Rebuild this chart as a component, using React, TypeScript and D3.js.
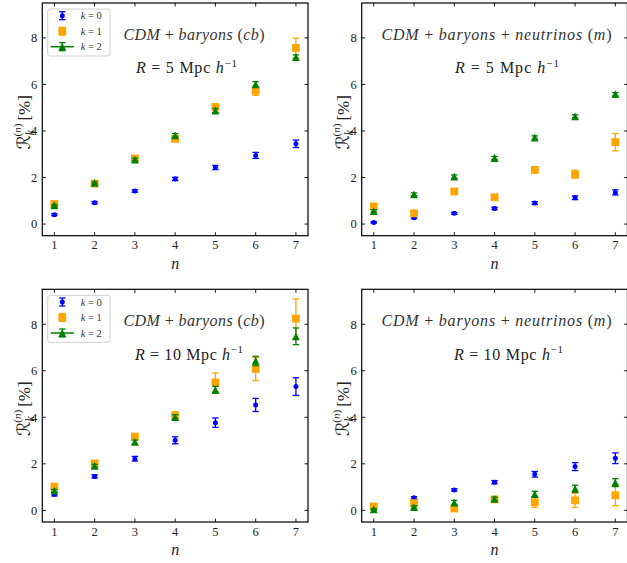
import React from "react";
import * as d3 from "d3";

// ---------- data ----------
const nValues = [1, 2, 3, 4, 5, 6, 7];
const xTicks = [1, 2, 3, 4, 5, 6, 7];
const yTicks = [0, 2, 4, 6, 8];
const seriesNames = ["0", "1", "2"];
const seriesColors = ["#0000ff", "#ffa500", "#008000"];

// top-left: CDM + baryons (cb), R = 5
const cb5K0 = [0.4, 0.92, 1.42, 1.94, 2.43, 2.95, 3.45];
const cb5K0Err = [0.04, 0.05, 0.05, 0.07, 0.09, 0.13, 0.16];
const cb5K1 = [0.86, 1.74, 2.82, 3.66, 5.03, 5.73, 7.57];
const cb5K1Err = [0.06, 0.07, 0.08, 0.1, 0.12, 0.2, 0.42];
const cb5K2 = [0.8, 1.77, 2.77, 3.81, 4.88, 6.0, 7.17];
const cb5K2Err = [0.04, 0.05, 0.06, 0.08, 0.09, 0.12, 0.1];

// top-right: CDM + baryons + neutrinos (m), R = 5
const m5K0 = [0.07, 0.27, 0.46, 0.67, 0.9, 1.13, 1.36];
const m5K0Err = [0.03, 0.04, 0.04, 0.05, 0.06, 0.08, 0.11];
const m5K1 = [0.76, 0.46, 1.4, 1.15, 2.33, 2.14, 3.52];
const m5K1Err = [0.08, 0.12, 0.1, 0.1, 0.13, 0.17, 0.37];
const m5K2 = [0.56, 1.28, 2.04, 2.84, 3.72, 4.63, 5.58];
const m5K2Err = [0.05, 0.06, 0.07, 0.07, 0.07, 0.07, 0.07];

// bottom-left: CDM + baryons (cb), R = 10
const cb10K0 = [0.69, 1.46, 2.22, 3.01, 3.77, 4.53, 5.32];
const cb10K0Err = [0.07, 0.07, 0.1, 0.15, 0.2, 0.28, 0.38];
const cb10K1 = [1.02, 2.02, 3.17, 4.06, 5.5, 6.08, 8.24];
const cb10K1Err = [0.08, 0.1, 0.12, 0.18, 0.4, 0.5, 0.85];
const cb10K2 = [0.85, 1.91, 2.94, 4.01, 5.18, 6.42, 7.48];
const cb10K2Err = [0.05, 0.07, 0.08, 0.1, 0.15, 0.2, 0.36];

// bottom-right: CDM + baryons + neutrinos (m), R = 10
const m10K0 = [0.15, 0.54, 0.88, 1.21, 1.55, 1.88, 2.24];
const m10K0Err = [0.04, 0.05, 0.05, 0.07, 0.12, 0.17, 0.23];
const m10K1 = [0.17, 0.31, 0.08, 0.47, 0.35, 0.43, 0.65];
const m10K1Err = [0.08, 0.1, 0.1, 0.08, 0.22, 0.3, 0.45];
const m10K2 = [0.04, 0.14, 0.33, 0.49, 0.7, 0.93, 1.19];
const m10K2Err = [0.03, 0.05, 0.1, 0.08, 0.12, 0.15, 0.17];

// ---------- layout ----------
const W = 627;
const H = 563;
const PW = 265.7;
const PH = 232.7;
const FONT = "'Liberation Serif', 'DejaVu Serif', serif";

type Panel = {
  left: number;
  top: number;
  series: { v: number[]; e: number[] }[];
  kind: "cb" | "m";
  radius: string;
  legend: boolean;
  titleX: number;
  titleLen: number;
  rX: number;
  rLen: number;
};

const panels: Panel[] = [
  {
    left: 42.3, top: 3, kind: "cb", radius: "5", legend: true, titleX: 123.5, titleLen: 141, rX: 136, rLen: 101,
    series: [{ v: cb5K0, e: cb5K0Err }, { v: cb5K1, e: cb5K1Err }, { v: cb5K2, e: cb5K2Err }],
  },
  {
    left: 361.7, top: 3, kind: "m", radius: "5", legend: false, titleX: 381.5, titleLen: 230, rX: 455, rLen: 104,
    series: [{ v: m5K0, e: m5K0Err }, { v: m5K1, e: m5K1Err }, { v: m5K2, e: m5K2Err }],
  },
  {
    left: 42.3, top: 289.3, kind: "cb", radius: "10", legend: true, titleX: 123.5, titleLen: 141, rX: 135, rLen: 108,
    series: [{ v: cb10K0, e: cb10K0Err }, { v: cb10K1, e: cb10K1Err }, { v: cb10K2, e: cb10K2Err }],
  },
  {
    left: 361.7, top: 289.3, kind: "m", radius: "10", legend: false, titleX: 381.5, titleLen: 230, rX: 454, rLen: 109,
    series: [{ v: m10K0, e: m10K0Err }, { v: m10K1, e: m10K1Err }, { v: m10K2, e: m10K2Err }],
  },
];

function Marker({ k, cx, cy, color }: { k: number; cx: number; cy: number; color: string }) {
  if (k === 0) return <circle cx={cx} cy={cy} r={2.5} fill={color} />;
  if (k === 1) return <rect x={cx - 3.9} y={cy - 3.9} width={7.8} height={7.8} fill={color} />;
  const s = 3.9;
  return <path d={`M${cx},${cy - s}L${cx - s},${cy + s}L${cx + s},${cy + s}Z`} fill={color} />;
}

function ErrBar({ cx, y0, y1, color }: { cx: number; y0: number; y1: number; color: string }) {
  const cw = 3.2;
  return (
    <g stroke={color} strokeWidth={1.3}>
      <line x1={cx} x2={cx} y1={y0} y2={y1} />
      <line x1={cx - cw} x2={cx + cw} y1={y0} y2={y0} />
      <line x1={cx - cw} x2={cx + cw} y1={y1} y2={y1} />
    </g>
  );
}

function PanelView({ p }: { p: Panel }) {
  const x = d3.scaleLinear().domain([0.7, 7.3]).range([p.left, p.left + PW]);
  const y = d3.scaleLinear().domain([-0.5, 9.5]).range([p.top + PH, p.top]);
  const bottom = p.top + PH;
  const right = p.left + PW;
  const tl = 3.5;
  const lx = p.left + 20; // legend handle centre
  return (
    <g>
      {/* data */}
      {p.series.map((s, k) => (
        <g key={k}>
          {s.v.map((v, i) => (
            <g key={i}>
              <ErrBar cx={x(nValues[i])} y0={y(v + s.e[i])} y1={y(v - s.e[i])} color={seriesColors[k]} />
              <Marker k={k} cx={x(nValues[i])} cy={y(v)} color={seriesColors[k]} />
            </g>
          ))}
        </g>
      ))}
      {/* ticks */}
      <g stroke="#000" strokeWidth={0.9}>
        {xTicks.map((t) => (
          <g key={"x" + t}>
            <line x1={x(t)} x2={x(t)} y1={bottom} y2={bottom - tl} />
            <line x1={x(t)} x2={x(t)} y1={p.top} y2={p.top + tl} />
          </g>
        ))}
        {yTicks.map((t) => (
          <g key={"y" + t}>
            <line x1={p.left} x2={p.left + tl} y1={y(t)} y2={y(t)} />
            <line x1={right} x2={right - tl} y1={y(t)} y2={y(t)} />
          </g>
        ))}
      </g>
      <rect x={p.left} y={p.top} width={PW} height={PH} fill="none" stroke="#000" strokeWidth={1.2} />
      {/* tick labels */}
      <g fontFamily={FONT} fontSize={12.5} fill="#222">
        {xTicks.map((t) => (
          <text key={"xl" + t} x={x(t)} y={bottom + 13.6} textAnchor="middle">
            {t}
          </text>
        ))}
        {yTicks.map((t) => (
          <text key={"yl" + t} x={p.left - 5} y={y(t) + 4.3} textAnchor="end">
            {t}
          </text>
        ))}
      </g>
      {/* axis labels */}
      <text x={p.left + PW / 2} y={bottom + 33.3} textAnchor="middle" fontFamily={FONT} fontSize={16} fontStyle="italic" fill="#222">
        n
      </text>
      <text
        transform={`translate(${p.left - 12.5},${p.top + PH / 2 + 3}) rotate(-90)`}
        textAnchor="middle"
        fontFamily={FONT}
        fontSize={17}
        fill="#222"
      >
        <tspan fontFamily="'DejaVu Sans', sans-serif" fontSize={18}>ℛ</tspan>
        <tspan fontSize={12} fontStyle="italic" dy={4}>k</tspan>
        <tspan fontSize={11} dx={-6.5} dy={-13}>(</tspan>
        <tspan fontSize={11} fontStyle="italic">n</tspan>
        <tspan fontSize={11}>)</tspan>
        <tspan dy={9} dx={3}>[%]</tspan>
      </text>
      {/* annotations */}
      <text
        x={p.titleX}
        y={p.top + 36.8}
        fontFamily={FONT}
        fontSize={16}
        fill="#333"
        textLength={p.titleLen}
        lengthAdjust="spacing"
      >
        {p.kind === "cb" ? (
          <>
            <tspan fontStyle="italic">CDM</tspan>
            <tspan> + </tspan>
            <tspan fontStyle="italic">baryons</tspan>
            <tspan> (</tspan>
            <tspan fontStyle="italic">cb</tspan>
            <tspan>)</tspan>
          </>
        ) : (
          <>
            <tspan fontStyle="italic">CDM</tspan>
            <tspan> + </tspan>
            <tspan fontStyle="italic">baryons</tspan>
            <tspan> + </tspan>
            <tspan fontStyle="italic">neutrinos</tspan>
            <tspan> (</tspan>
            <tspan fontStyle="italic">m</tspan>
            <tspan>)</tspan>
          </>
        )}
      </text>
      <text
        x={p.rX}
        y={p.top + 70.2}
        fontFamily={FONT}
        fontSize={16}
        fill="#222"
        textLength={p.rLen}
        lengthAdjust="spacing"
      >
        <tspan fontStyle="italic">R</tspan>
        <tspan>{` = ${p.radius} Mpc `}</tspan>
        <tspan fontStyle="italic">h</tspan>
        <tspan fontSize={11} dy={-6.5}>−1</tspan>
      </text>
      {/* legend */}
      {p.legend && (
        <g>
          <rect x={p.left + 5.4} y={p.top + 6} width={62.3} height={47} rx={2.5} fill="#fff" fillOpacity={0.8} stroke="#d0d0d0" strokeWidth={1} />
          {seriesNames.map((nm, k) => {
            const cy = p.top + 12.7 + k * 15.5;
            return (
              <g key={nm}>
                {k === 2 && <line x1={lx - 11.6} x2={lx + 11.6} y1={cy} y2={cy} stroke={seriesColors[k]} strokeWidth={1.5} />}
                <ErrBar cx={lx} y0={cy - 4} y1={cy + 4} color={seriesColors[k]} />
                <Marker k={k} cx={lx} cy={cy} color={seriesColors[k]} />
                <text x={lx + 18.4} y={cy + 3.5} fontFamily={FONT} fontSize={10.5} fill="#333">
                  <tspan fontStyle="italic">k</tspan>
                  <tspan>{` = ${nm}`}</tspan>
                </text>
              </g>
            );
          })}
        </g>
      )}
    </g>
  );
}

export default function App() {
  return (
    <svg width={W} height={H} style={{ position: "absolute", left: 0, top: 0, background: "#fff" }}>
      <rect width={W} height={H} fill="#fff" />
      {panels.map((p, i) => (
        <PanelView key={i} p={p} />
      ))}
    </svg>
  );
}
